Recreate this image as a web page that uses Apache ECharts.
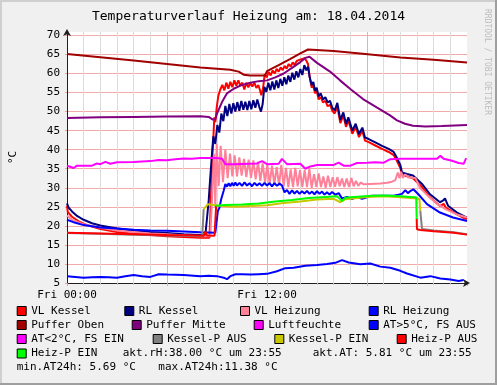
<!DOCTYPE html>
<html><head><meta charset="utf-8">
<script src="https://cdn.jsdelivr.net/npm/echarts@6/dist/echarts.min.js"></script>
<style>html,body{margin:0;padding:0;background:#f0f0f0}#c{width:497px;height:385px}</style>
</head><body><div id="c"></div><script>
// ---- data (x = hours since Fri 00:00, y = °C / %) ----
const titleText = 'Temperaturverlauf Heizung am: 18.04.2014';
const xLabelHours = [0, 12];
const xLabelTexts = ['Fri 00:00', 'Fri 12:00'];

const vlKessel = [[0,25.3],[0.05,23.6],[0.3,22.4],[0.7,21.2],[1.2,20.2],[2,19.2],[3,18.4],[4,17.9],[5,17.6],[6,17.3],[7,17.1],[8,16.9],[8.55,16.9],[8.6,17.2],[8.66,30],[8.72,38],[8.78,43],[8.84,48.5],[8.9,47.2],[8.98,51],[9.08,54.2],[9.2,55.8],[9.32,57],[9.44,55.6],[9.56,57.6],[9.68,56],[9.8,57.8],[9.92,56.4],[10.04,58.2],[10.16,56.8],[10.28,58.2],[10.4,56.8],[10.52,57.6],[10.64,55.8],[10.76,57.6],[10.88,56.4],[11,57.5],[11.12,56.6],[11.24,57.6],[11.36,56.2],[11.48,57],[11.58,55.6],[11.66,54.3],[11.76,56],[11.86,59.8],[11.98,59],[12.1,60.4],[12.22,59.5],[12.34,60.8],[12.46,60],[12.58,61.2],[12.7,60.5],[12.82,61.6],[12.94,60.9],[13.06,62],[13.18,61.3],[13.3,62.5],[13.42,61.8],[13.54,62.9],[13.66,62.3],[13.78,63.3],[13.9,62.8],[14.02,63.7],[14.14,63.2],[14.26,64],[14.36,63.4],[14.46,62.5],[14.56,59.2],[14.68,56.3],[14.78,57],[14.88,54.8],[14.98,55.5],[15.1,53.2],[15.22,53.8],[15.36,52.4],[15.5,52.8],[15.64,51.4],[15.78,51.8],[15.92,50.2],[16.06,49.5],[16.22,51.3],[16.4,47],[16.58,49],[16.74,46],[16.88,47.7],[17.12,44.2],[17.32,46],[17.52,43.3],[17.72,45],[17.88,42.4],[18.1,42],[18.5,41.1],[18.9,40.2],[19.3,39.4],[19.6,38.6],[19.8,37],[20,35.2],[20.1,33.4],[20.4,33],[20.76,32.5],[21.3,30.2],[21.78,27.5],[22.38,25.2],[22.6,25.8],[22.72,24.8],[23.4,23],[23.88,21.9],[24,21.8]];

const rlKessel = [[0,25.9],[0.1,24.8],[0.3,23.8],[0.6,22.6],[1,21.6],[1.5,20.7],[2,20.1],[3,19.3],[4,18.8],[5,18.4],[6,18.1],[7,17.8],[8,17.6],[8.3,17.6],[8.4,22],[8.5,26.5],[8.6,33],[8.7,39],[8.78,43.5],[8.9,41.5],[9.02,46.5],[9.14,44.5],[9.26,49.5],[9.38,47.5],[9.5,51.5],[9.62,48.8],[9.74,52],[9.86,49.5],[9.98,52.2],[10.1,50],[10.22,52.5],[10.34,50.2],[10.46,52.8],[10.58,50.5],[10.7,52.6],[10.82,50.4],[10.94,52.8],[11.06,50.6],[11.18,53],[11.3,51],[11.42,53.2],[11.54,51.2],[11.64,50],[11.74,52],[11.84,56.5],[11.96,55.2],[12.08,57.6],[12.2,55.6],[12.32,57.9],[12.44,55.8],[12.56,58.2],[12.68,56.2],[12.8,58.6],[12.92,56.8],[13.04,59],[13.16,57.2],[13.28,59.5],[13.4,57.8],[13.52,60.2],[13.64,58.4],[13.76,60.6],[13.88,59],[14,61.2],[14.12,59.6],[14.24,62.2],[14.36,60.8],[14.46,61.8],[14.56,59],[14.68,57],[14.78,57.8],[14.88,55.5],[14.98,56.3],[15.1,54],[15.22,54.8],[15.36,53.2],[15.5,53.8],[15.64,52.4],[15.78,52.8],[15.92,51],[16.06,50.3],[16.22,52.3],[16.4,47.8],[16.58,49.8],[16.74,46.8],[16.88,48.5],[17.12,45],[17.32,46.8],[17.52,44.1],[17.72,45.8],[17.88,43.2],[18.1,42.8],[18.5,41.9],[18.9,41],[19.3,40.2],[19.6,39.4],[19.8,37.8],[20,36],[20.1,34],[20.4,33.6],[20.76,33.2],[21.3,31],[21.78,28.3],[22.38,26.2],[22.55,26.6],[22.68,27.2],[22.86,25.3],[23.4,23.5],[23.88,22.4],[24,22.3]];

const vlHeizung = [[0,22.7],[0.3,21.6],[1,20.4],[2,19.5],[3,18.8],[4,18.4],[5,18],[6,17.8],[7,17.5],[8,17.3],[8.6,17.3],[8.72,17.5],[8.82,38.9],[8.9,24.8],[8.98,41.5],[9.1,30.5],[9.22,41],[9.36,31.5],[9.5,40],[9.64,32.5],[9.78,39],[9.92,33],[10.06,38.5],[10.2,33],[10.34,38],[10.48,33.2],[10.62,37.6],[10.76,32.8],[10.9,37.4],[11.04,32.6],[11.18,37.2],[11.32,32.2],[11.46,36.8],[11.6,31.8],[11.74,36.4],[11.88,31.4],[12.02,36],[12.16,31],[12.3,35.8],[12.44,30.8],[12.58,35.4],[12.72,30.6],[12.86,36],[13,30.4],[13.14,35.2],[13.28,30.2],[13.42,34.8],[13.56,30.2],[13.7,35.2],[13.84,30.4],[13.98,34.6],[14.12,30.2],[14.26,34.6],[14.4,30.2],[14.54,35],[14.68,30],[14.82,33.6],[14.96,30.2],[15.1,33.8],[15.24,30.2],[15.38,33],[15.52,30],[15.66,33.2],[15.8,30.2],[15.94,32.8],[16.08,30.3],[16.22,32.8],[16.36,30.4],[16.5,32.4],[16.64,30.2],[16.78,32.4],[16.92,30.2],[17.06,32.6],[17.2,30.4],[17.34,31.8],[17.48,30.5],[17.62,31.4],[17.8,30.9],[18.2,31],[18.8,31.1],[19.2,31.3],[19.5,31.6],[19.7,32],[19.85,34],[19.95,32.5],[20.05,34.2],[20.15,32.6],[20.3,33.5],[20.5,32.7],[20.9,32.6],[21.18,30],[21.5,28.6],[21.78,27.4],[22.2,25.8],[22.8,24.2],[23.4,23],[24,22.2]];

const rlHeizung = [[0,21.6],[0.5,20.8],[1,20.2],[2,19.6],[3,19.3],[4,19],[5,18.8],[6,18.7],[7,18.5],[8,18.3],[8.9,18.2],[9.05,23.9],[9.15,24.8],[9.25,27],[9.4,29.2],[9.5,31],[9.6,30.3],[9.7,31.2],[9.8,30.4],[9.9,31.3],[10,30.5],[10.1,31.4],[10.2,30.6],[10.35,31.3],[10.5,30.5],[10.65,31.4],[10.8,30.6],[10.95,31.2],[11.1,30.4],[11.25,31.3],[11.4,30.6],[11.55,31.2],[11.7,30.5],[11.85,31.3],[12,30.6],[12.15,31.2],[12.3,30.4],[12.45,31.2],[12.6,30.5],[12.75,31.1],[12.9,30.6],[13.05,28.8],[13.2,29.4],[13.35,28.4],[13.5,29.3],[13.65,28.5],[13.8,29.2],[13.95,28.4],[14.1,29.1],[14.25,28.5],[14.4,29.2],[14.55,28.4],[14.7,29],[14.85,28.3],[15,29.1],[15.15,28.4],[15.3,29],[15.45,28.2],[15.6,28.8],[15.75,28.2],[15.9,28.9],[16.1,28.2],[16.3,28.6],[16.5,27.2],[16.8,27.6],[17.1,27],[17.4,27.6],[17.7,27.1],[18,27.5],[18.3,27.9],[19,27.9],[19.6,27.9],[19.9,28.2],[20.1,28.4],[20.3,29.4],[20.45,28.6],[20.62,29.2],[20.78,29.6],[21.08,28.3],[21.6,25.7],[22.38,23.5],[23.16,22.2],[24,21.3]];

const pufferOben = [[0,65.1],[4,63.4],[8,61.6],[9.8,61],[10.3,60.5],[10.6,59.7],[11,59.5],[11.88,59.5],[12,60.6],[12.7,62.2],[13.38,63.8],[14,65.3],[14.46,66.3],[16,65.9],[17.75,65.2],[20,64.2],[22,63.6],[24,62.9]];

const pufferMitte = [[0,48.3],[2,48.5],[4,48.6],[6,48.7],[8,48.8],[8.5,48.6],[8.75,47.9],[8.9,48],[9,49.5],[9.3,52.5],[9.6,54.8],[10,56],[10.5,57],[11,57.6],[11.5,58],[12,58.2],[12.5,59],[13,60],[13.5,61.5],[14,63],[14.3,64.1],[14.55,64.4],[15,62.8],[15.78,60.5],[16.38,58.2],[16.98,56],[17.76,53.3],[18.78,50.6],[19.38,49],[19.8,47.7],[20.28,46.8],[20.76,46.3],[21.5,46.1],[22.5,46.2],[24,46.5]];

const luftfeuchte = [[0,35.8],[0.4,35.2],[0.6,35.8],[1.5,35.8],[1.8,36.4],[2,36.2],[2.3,36.8],[2.6,36.3],[3,36.7],[4,36.8],[5,37],[5.5,37.3],[6,37.2],[6.5,37.5],[7,37.7],[7.5,37.6],[8,37.8],[9,37.8],[9.3,37.6],[9.5,36.2],[10,36.2],[11.4,36.4],[11.7,37],[12,36.2],[12.7,36.3],[12.9,37.6],[13.2,36.2],[14,36.3],[14.3,35],[14.6,35.6],[15,36],[16,36],[16.3,36.6],[16.6,35.8],[17,35.8],[17.4,36.5],[18,36.6],[18.5,36.7],[19,36.6],[19.4,37.5],[20,37.6],[21,37.6],[22.2,37.6],[22.4,38.4],[22.6,37.6],[23.1,37.1],[23.5,36.5],[23.8,36.3],[23.95,37.8]];

const atWarm = [[0,6.8],[0.5,6.6],[1,6.4],[1.5,6.5],[2,6.6],[2.5,6.5],[3,6.4],[3.5,6.8],[4,7.1],[4.5,6.8],[5,6.6],[5.5,7.3],[6,7.2],[7,7.1],[8,6.8],[8.5,6.9],[9,6.8],[9.4,6.4],[9.6,6],[9.8,6.8],[10.1,7.3],[10.5,7.3],[11,7.2],[11.5,7.3],[12,7.4],[12.6,8.1],[13.1,8.9],[13.6,9],[14.3,9.5],[15,9.7],[15.6,10],[16.1,10.3],[16.5,11],[16.9,10.4],[17.6,9.9],[18.2,10.1],[18.8,9.3],[19.4,9],[20,8.2],[20.4,7.5],[21.2,6.4],[21.8,6.8],[22.4,6.2],[23,5.9],[23.5,5.5],[23.8,5.8]];
const atCold = [];

const kesselPAus = [[0,18.1],[2,17.9],[4,17.7],[6,17.5],[8.1,17.3],[8.15,20],[8.2,24.4],[8.21,'-'],[21.2,23.9],[21.3,19.2],[22,18.8],[23.2,18.3],[24,17.8]];
const kesselPEin = [[8.2,24.4],[8.45,25.7],[8.9,25.4],[10,25],[11,25.2],[12,25.4],[13,26],[14,26.4],[15,26.9],[16,27.1],[16.4,26.2],[16.7,27],[18,27.6],[19,27.8],[20,27.5],[21,27.2],[21.15,27],[21.2,23.9]];
const heizPAus = [[0,18.2],[2,18],[4,17.8],[6,17.6],[7.9,17.5],[8.2,17.4],[8.3,18.5],[8.4,17.5],[8.85,17.4],[8.95,25.3],[8.96,'-'],[20.98,21.8],[21,19.1],[21.2,18.9],[22,18.6],[23.2,18.2],[24,17.7]];
const heizPEin = [[8.95,25.3],[9.5,25.5],[10.5,25.6],[11.5,25.9],[12.5,26.4],[13.5,26.8],[14.5,27.3],[15.5,27.6],[16.2,27.8],[16.5,26.5],[16.7,27.4],[17,27.5],[18.3,27.9],[19,28],[20,27.8],[20.8,27.5],[20.95,27.5],[20.98,21.8]];

const seriesNames = ['VL Kessel','RL Kessel','VL Heizung','RL Heizung','Puffer Oben','Puffer Mitte','Luftfeuchte','AT>5°C, FS AUS','AT<2°C, FS EIN','Kessel-P AUS','Kessel-P EIN','Heiz-P AUS','Heiz-P EIN'];
const seriesData = [vlKessel, rlKessel, vlHeizung, rlHeizung, pufferOben, pufferMitte, luftfeuchte, atWarm, atCold, kesselPAus, kesselPEin, heizPAus, heizPEin];
const seriesColors = ['#ff0000','#000080','#ff8099','#0000ff','#a00000','#800080','#ff00ff','#0000ff','#ff00ff','#808080','#c8c800','#ff0000','#00ff00'];

const infoTexts = ['akt.rH:38.00 °C um 23:55', 'akt.AT: 5.81 °C um 23:55', 'min.AT24h: 5.69 °C', 'max.AT24h:11.38 °C'];

// ---- layout ----
const MONO = '"DejaVu Sans Mono", monospace';
const legendPos = [[16.7,305.5],[124.3,305.5],[240,305.5],[368.7,305.5],
                   [16.7,319.5],[131.7,319.5],[253.7,319.5],[368.7,319.5],
                   [16.7,333.5],[152.7,333.5],[274.3,333.5],[396.7,333.5],
                   [16.7,348]];
const infoPos = [[122.7,353.3],[312.7,353.3],[16.7,366.7],[158.3,366.7]];

const chart = echarts.init(document.getElementById('c'), null, {renderer:'canvas'});

const series = seriesNames.map((n,i) => ({
  name: n, type: 'line', data: seriesData[i], symbol: 'none', showSymbol: false,
  color: seriesColors[i], lineStyle: {color: seriesColors[i], width: 2},
  itemStyle: {color: seriesColors[i]}, connectNulls: false, animation: false, z: 2 + i * 0.01
}));

const legends = seriesNames.map((n,i) => ({
  data: [n], left: legendPos[i][0], top: legendPos[i][1], padding: 0,
  icon: 'rect', itemWidth: 9, itemHeight: 9, itemGap: 0, selectedMode: false,
  itemStyle: {borderColor: '#000', borderWidth: 1},
  textStyle: {fontFamily: MONO, fontSize: 11, color: '#000'}
}));

const graphics = [
  {type:'rect', shape:{x:0,y:0,width:497,height:2}, style:{fill:'#cfcfcf'}, z:100},
  {type:'rect', shape:{x:0,y:0,width:2,height:385}, style:{fill:'#cfcfcf'}, z:100},
  {type:'rect', shape:{x:0,y:383,width:497,height:2}, style:{fill:'#9e9e9e'}, z:100},
  {type:'rect', shape:{x:495,y:0,width:2,height:385}, style:{fill:'#9e9e9e'}, z:100},
  {type:'text', x:487, y:62, rotation:-Math.PI/2,
   style:{text:'RRDTOOL / TOBI OETIKER', font:'8px ' + MONO, fill:'#bdbdbd', align:'center', verticalAlign:'middle'}}
].concat(infoTexts.map((t,i) => ({
  type:'text', x: infoPos[i][0], y: infoPos[i][1],
  style:{text:t, font:'11px ' + MONO, fill:'#000', align:'left', verticalAlign:'middle'}
})));

chart.setOption({
  backgroundColor: '#f0f0f0',
  animation: false,
  title: {text: titleText, left: 'center', top: 10, padding: 0,
          textStyle: {fontFamily: MONO, fontSize: 13, fontWeight: 'normal', color: '#000'}},
  grid: {left: 67, top: 32, width: 400, height: 251, show: true, backgroundColor: '#ffffff', borderWidth: 0},
  xAxis: {
    type: 'value', min: 0, max: 24, interval: 6,
    axisLine: {show: true, lineStyle: {color: '#1f1f1f', width: 1}, symbol: ['none','arrow'], symbolSize: [6,7], symbolOffset: [0,3]},
    axisTick: {show: true, length: 3, lineStyle: {color: '#e8a0a0'}},
    minorTick: {show: true, splitNumber: 6, length: 2, lineStyle: {color: '#cccccc'}},
    splitLine: {show: true, showMinLine: false, showMaxLine: false, lineStyle: {color: '#f2aaaa', width: 1}},
    minorSplitLine: {show: true, lineStyle: {color: '#dcdcdc', width: 1}},
    axisLabel: {margin: 7, fontFamily: MONO, fontSize: 11, color: '#000', showMaxLabel: false,
      formatter: v => { const k = xLabelHours.indexOf(v); return k >= 0 ? xLabelTexts[k] : ''; }}
  },
  yAxis: {
    type: 'value', min: 5, max: 70.9, interval: 5,
    name: '°C', nameLocation: 'middle', nameRotate: 90, nameGap: 48,
    nameTextStyle: {fontFamily: MONO, fontSize: 11, color: '#000'},
    axisLine: {show: true, lineStyle: {color: '#1f1f1f', width: 1}, symbol: ['none','arrow'], symbolSize: [6,7], symbolOffset: [0,3]},
    axisTick: {show: true, length: 2, lineStyle: {color: '#e8a0a0'}},
    splitLine: {show: true, showMinLine: false, showMaxLine: false, lineStyle: {color: '#f2aaaa', width: 1}},
    axisLabel: {margin: 7, fontFamily: MONO, fontSize: 11, color: '#000',
      formatter: v => (Math.abs(v % 5) < 1e-9 ? String(v) : '')}
  },
  legend: legends,
  graphic: graphics,
  series: series
});
</script></body></html>
